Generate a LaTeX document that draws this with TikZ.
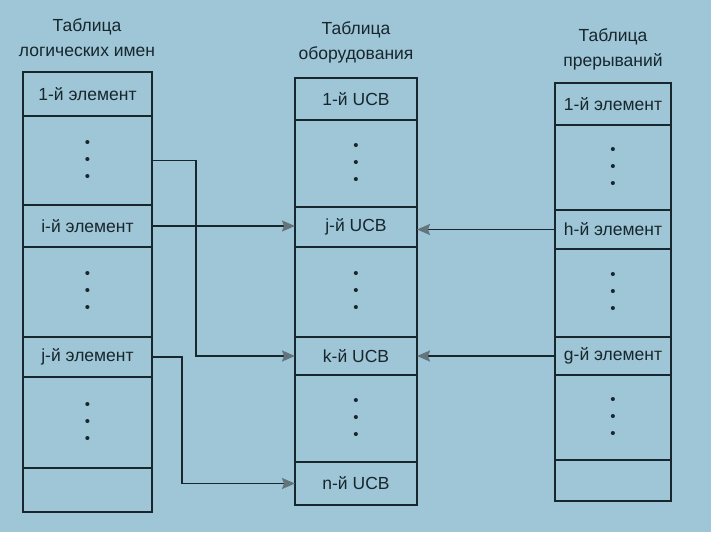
\documentclass[tikz,border=0pt]{standalone}
\usepackage{fontspec}
\setmainfont{Liberation Sans}
\usetikzlibrary{arrows.meta}

\definecolor{bgblue}{RGB}{158,198,214}
\definecolor{ink}{RGB}{24,38,46}
\definecolor{tipgray}{RGB}{100,116,124}

\tikzset{
  cell/.style={draw=ink,line width=1.6pt,shape=rectangle,inner sep=0pt,outer sep=0pt,
    text=ink,font=\fontsize{17.5}{20}\selectfont},
  lcell/.style={cell,minimum width=129pt},
  mcell/.style={cell,minimum width=122pt},
  rcell/.style={cell,minimum width=116pt},
  dots/.style={align=center,font=\fontsize{15}{17}\selectfont},
  title/.style={text=ink,align=center,font=\fontsize{17.5}{25}\selectfont},
  link/.style={draw=ink,line width=1.6pt,-{Stealth[length=13pt,width=11pt,inset=2pt,color=tipgray]}}
}
\newcommand{\dotcol}{\textbullet\\\textbullet\\\textbullet}

\begin{document}
\begin{tikzpicture}[x=1pt,y=-1pt]
   \path[fill=bgblue,use as bounding box] (0,0) rectangle (711,532);

   % logical names
   \path (87,38) node[title] (Ltitle) {Таблица\\логических имен};
   \path (87.5,94) node[lcell,minimum height=44pt] (L1) {1-й элемент};
   \path (87.5,160.5) node[lcell,minimum height=89pt,dots] (L2) {\dotcol};
   \path (87.5,226) node[lcell,minimum height=42pt] (Li) {i-й элемент};
   \path (87.5,292) node[lcell,minimum height=90pt,dots] (L3) {\dotcol};
   \path (87.5,357) node[lcell,minimum height=40pt] (Lj) {j-й элемент};
   \path (87.5,422.5) node[lcell,minimum height=91pt,dots] (L4) {\dotcol};
   \path (87.5,490) node[lcell,minimum height=44pt] (L5) {};

   % equipment
   \path (356,42) node[title] (Mtitle) {Таблица\\оборудования};
   \path (356,99) node[mcell,minimum height=42pt] (M1) {1-й UCB};
   \path (356,163.5) node[mcell,minimum height=87pt,dots] (M2) {\dotcol};
   \path (356,227) node[mcell,minimum height=40pt] (Mj) {j-й UCB};
   \path (356,292) node[mcell,minimum height=90pt,dots] (M3) {\dotcol};
   \path (356,356) node[mcell,minimum height=38pt] (Mk) {k-й UCB};
   \path (356,418.5) node[mcell,minimum height=87pt,dots] (M4) {\dotcol};
   \path (356,483.5) node[mcell,minimum height=43pt] (Mn) {n-й UCB};

   % interrupts
   \path (613,49) node[title] (Rtitle) {Таблица\\прерываний};
   \path (613,104) node[rcell,minimum height=42pt] (R1) {1-й элемент};
   \path (613,167.5) node[rcell,minimum height=85pt,dots] (R2) {\dotcol};
   \path (613,229.5) node[rcell,minimum height=39pt] (Rh) {h-й элемент};
   \path (613,293) node[rcell,minimum height=88pt,dots] (R3) {\dotcol};
   \path (613,356) node[rcell,minimum height=38pt] (Rg) {g-й элемент};
   \path (613,417.5) node[rcell,minimum height=85pt,dots] (R4) {\dotcol};
   \path (613,480.5) node[rcell,minimum height=41pt] (R5) {};

   \draw[link] (L2.east) -- ++(44,0) |- (Mk.west);
   \draw[link] (Li.east) -- (Li.east -| Mj.west);
   \draw[link] (Lj.east) -- ++(30,0) |- (Mn.west);
   \draw[link] (Rh.west) -- (Rh.west -| Mj.east);
   \draw[link] (Rg.west) -- (Rg.west -| Mk.east);
\end{tikzpicture}
\end{document}
